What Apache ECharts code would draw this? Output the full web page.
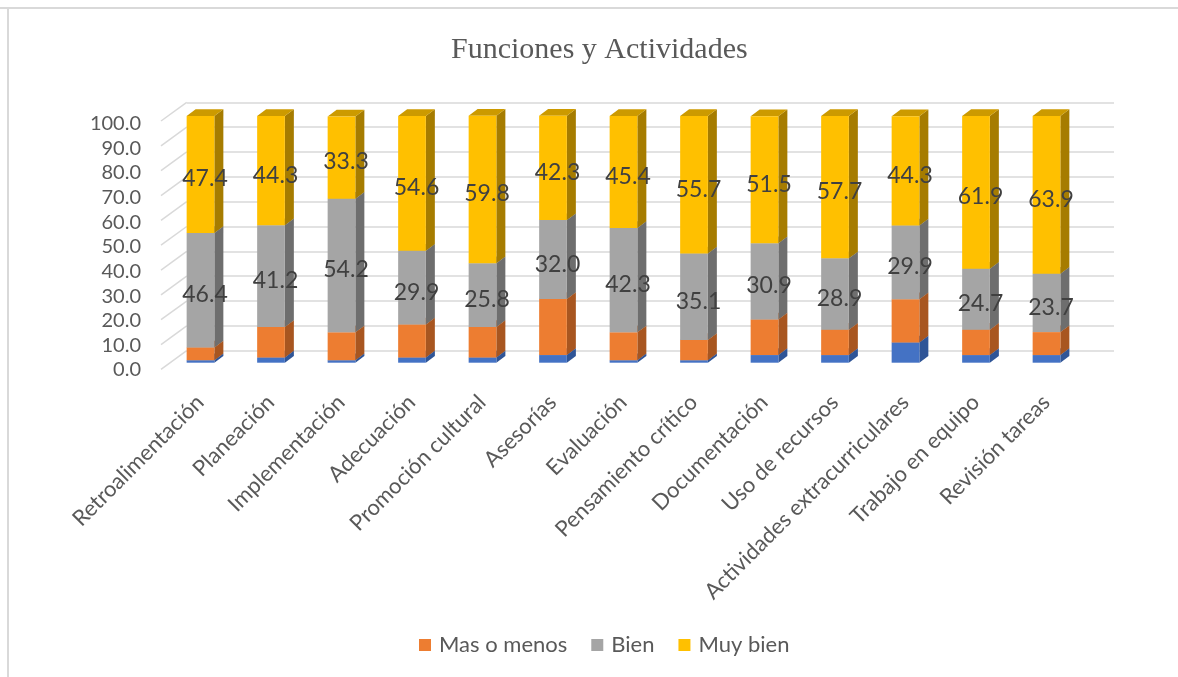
<!DOCTYPE html>
<html>
<head>
<meta charset="utf-8">
<script src="https://cdn.jsdelivr.net/npm/echarts@6/dist/echarts.min.js"></script>
<style>
html,body{margin:0;padding:0;background:#fff;}
#c{width:1178px;height:677px;}
</style>
</head>
<body>
<div id="c"></div>
<script>
const categories = ['Retroalimentación','Planeación','Implementación','Adecuación','Promoción cultural','Asesorías','Evaluación','Pensamiento crítico','Documentación','Uso de recursos','Actividades extracurriculares','Trabajo en equipo','Revisión tareas'];
const nada = [1.0,2.1,1.0,2.1,2.1,3.1,1.0,1.0,3.1,3.1,8.2,3.1,3.1];
const masOMenos = [5.2,12.4,11.3,13.4,12.4,22.7,11.3,8.2,14.4,10.3,17.5,10.3,9.3];
const bien = [46.4,41.2,54.2,29.9,25.8,32.0,42.3,35.1,30.9,28.9,29.9,24.7,23.7];
const muyBien = [47.4,44.3,33.3,54.6,59.8,42.3,45.4,55.7,51.5,57.7,44.3,61.9,63.9];
const yTicks = [0,10,20,30,40,50,60,70,80,90,100];

const FONT = 'Lato';
const TXT = '#595959';
const DX = 9, DY = 6.7;

const stacks = [
  {name:'Nada', vals:nada, front:'#4472C4', side:'#2F5597', top:'#3A62A8', label:false},
  {name:'Mas o menos', vals:masOMenos, front:'#ED7D31', side:'#A85620', top:'#C8692A', label:false},
  {name:'Bien', vals:bien, front:'#A5A5A5', side:'#6E6E6E', top:'#8A8A8A', label:true},
  {name:'Muy bien', vals:muyBien, front:'#FFC000', side:'#A67C00', top:'#CC9A00', label:true}
];

const base = categories.map(() => 0);
const barSeries = stacks.map((s, si) => {
  const data = s.vals.map((v, i) => {
    const b = base[i];
    base[i] = b + v;
    return [i, b, b + v, v];
  });
  return {
    type: 'custom',
    name: s.name,
    xAxisIndex: 0, yAxisIndex: 0,
    z: 10,
    itemStyle: {color: s.front},
    data: data,
    renderItem: function (params, api) {
      const i = api.value(0), b = api.value(1), t = api.value(2), v = api.value(3);
      const p0 = api.coord([i, b]);
      const p1 = api.coord([i, t]);
      const w = api.size([1, 0])[0] * 0.393;
      const x0 = p0[0] - w / 2, x1 = p0[0] + w / 2;
      const yb = p0[1], yt = p1[1];
      const children = [
        {type:'polygon', shape:{points:[[x1,yb],[x1+DX,yb-DY],[x1+DX,yt-DY],[x1,yt]]}, style:{fill:s.side}},
        {type:'polygon', shape:{points:[[x0,yt],[x0+DX,yt-DY],[x1+DX,yt-DY],[x1,yt]]}, style:{fill:s.top}},
        {type:'rect', shape:{x:x0, y:yt, width:w, height:yb-yt}, style:{fill:s.front}}
      ];
      if (s.label) {
        children.push({type:'text', x: p0[0] + DX/2, y: (yb+yt)/2 + 4.5, z2: 100,
          style:{text: v.toFixed(1), fill:'#404040', font: '23px ' + FONT, align:'center', verticalAlign:'middle'}});
      }
      return {type:'group', children: children};
    }
  };
});

const gridLines = {
  type: 'custom',
  name: 'grid3d',
  xAxisIndex: 2, yAxisIndex: 2,
  z: 1,
  silent: true,
  data: yTicks.map(t => [0, t]),
  renderItem: function (params, api) {
    const p = api.coord([0, api.value(1)]);
    return {type:'line', shape:{x1:p[0], y1:p[1], x2:p[0]-25.7, y2:p[1]+18.7}, style:{stroke:'#d9d9d9', lineWidth:1.5}};
  }
};

const option = {
  backgroundColor: '#fff',
  animation: false,
  title: {
    text: 'Funciones y Actividades',
    left: 446, top: 30,
    textStyle: {fontFamily: 'Liberation Serif', fontWeight: 'normal', fontSize: 30, color: TXT}
  },
  legend: {
    data: ['Mas o menos', 'Bien', 'Muy bien'],
    bottom: 16, left: 414,
    icon: 'rect', itemWidth: 12, itemHeight: 12, itemGap: 24,
    textStyle: {fontFamily: FONT, fontSize: 22, color: TXT, padding: [0,0,0,3]}
  },
  graphic: [
    {type:'line', shape:{x1:0, y1:8, x2:1178, y2:8}, style:{stroke:'#d9d9d9', lineWidth:2}},
    {type:'line', shape:{x1:8, y1:8, x2:8, y2:677}, style:{stroke:'#d9d9d9', lineWidth:2}}
  ],
  grid: [
    {left: 165.25, width: 916.5, top: 116, height: 246.7},
    {left: 161, width: 900, top: 123.5, height: 246.5},
    {left: 186.7, width: 927.3, top: 102.3, height: 248.4},
    {left: 165, width: 916.5, top: 116, height: 246.7}
  ],
  xAxis: [
    {gridIndex: 0, type: 'category', data: categories, show: false},
    {gridIndex: 1, type: 'value', show: false},
    {gridIndex: 2, type: 'value', min: 0, max: 1, show: false},
    {gridIndex: 3, type: 'category', data: categories,
      axisLine: {show: false}, axisTick: {show: false},
      axisLabel: {rotate: 45, margin: 36, interval: 0, fontFamily: FONT, fontSize: 22, color: TXT}}
  ],
  yAxis: [
    {gridIndex: 0, type: 'value', min: 0, max: 100, show: false},
    {gridIndex: 1, type: 'value', min: 0, max: 100, interval: 10,
      axisLine: {show: false}, axisTick: {show: false}, splitLine: {show: false},
      axisLabel: {margin: 20, fontFamily: FONT, fontSize: 20, color: TXT, formatter: v => v.toFixed(1)}},
    {gridIndex: 2, type: 'value', min: 0, max: 100, interval: 10,
      axisLine: {show: false}, axisTick: {show: false}, axisLabel: {show: false},
      splitLine: {show: true, lineStyle: {color: '#d9d9d9', width: 1.5}}},
    {gridIndex: 3, type: 'value', min: 0, max: 100, show: false}
  ],
  series: [gridLines].concat(barSeries)
};

const chart = echarts.init(document.getElementById('c'), null, {renderer: 'canvas'});
chart.setOption(option);
</script>
</body>
</html>
